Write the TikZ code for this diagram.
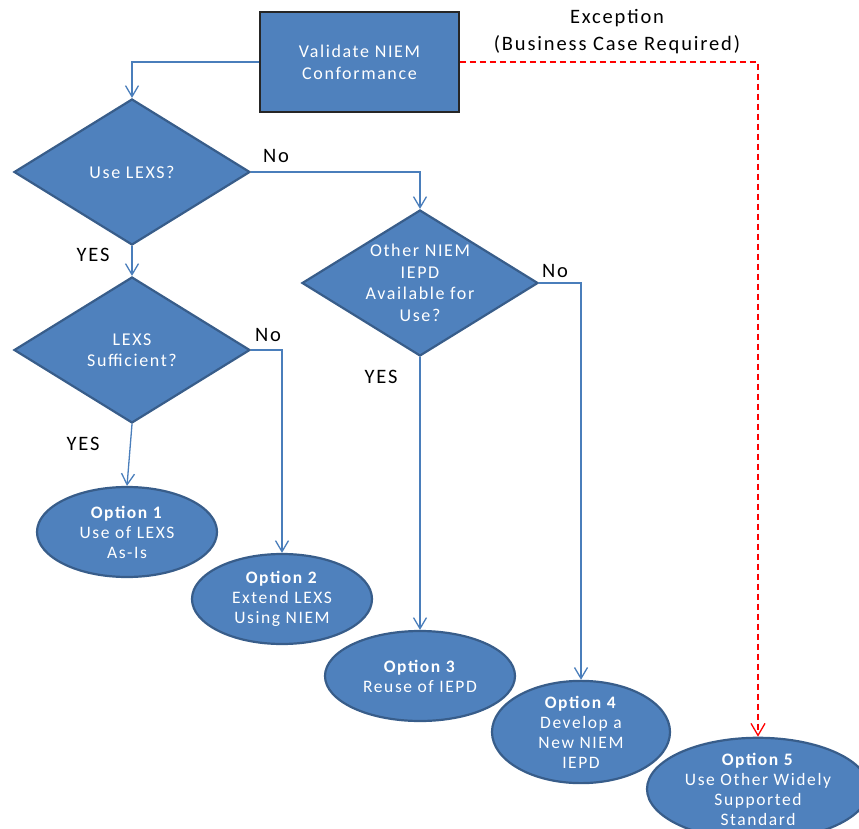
\documentclass[tikz,border=0pt]{standalone}
\usepackage{fontspec}
\setmainfont{Carlito}[LetterSpace=9]
\usetikzlibrary{shapes.geometric,arrows.meta}
\definecolor{boxfill}{HTML}{4F81BD}
\definecolor{boxedge}{HTML}{385D8A}
\definecolor{linkblue}{HTML}{4A7EBB}
\tikzset{
  decision/.style={diamond, aspect=1.6, fill=boxfill, draw=boxedge, line width=2.2pt, inner sep=0pt,
    minimum width=236pt, minimum height=146pt, text=white, align=center,
    font=\fontsize{18}{21.5}\selectfont},
  procbox/.style={rectangle, fill=boxfill, draw=black!85, line width=1.3pt,
    minimum width=199pt, minimum height=100pt, text=white, align=center,
    font=\fontsize{18}{22}\selectfont},
  option/.style={ellipse, fill=boxfill, draw=boxedge, line width=2.2pt, inner sep=0pt,
    minimum width=180pt, minimum height=90pt, text=white, align=center,
    font=\fontsize{17.5}{20}\selectfont},
  link/.style={draw=linkblue, line width=1.3pt, -{Straight Barb[length=11pt,width=13pt,line width=1.3pt]}},
  exception/.style={draw=red, line width=1.3pt, dash pattern=on 6pt off 4pt,
    -{Straight Barb[length=12pt,width=14pt,line width=1.3pt]}},
  lbl/.style={text=black, font=\fontsize{20.5}{27}\selectfont, align=center, inner sep=0pt}
}
\begin{document}
\begin{tikzpicture}[x=1pt,y=-1pt]
\useasboundingbox (0,0) rectangle (859,829);
\node[procbox] (val) at (359.5,62) {Validate NIEM\\Conformance};
\node[decision] (d1) at (132,172) {Use LEXS?};
\node[decision] (d3) at (132,350) {LEXS\\Sufficient?};
\node[decision] (d2) at (420,283) {Other NIEM\\IEPD\\Available for\\Use?};
\node[option] (o1) at (127,532) {\textbf{Option 1}\\Use of LEXS\\As-Is};
\node[option] (o2) at (282,599) {\textbf{Option 2}\\Extend LEXS\\Using NIEM};
\node[option, minimum width=190pt] (o3) at (420,676) {\textbf{Option 3}\\Reuse of IEPD};
\node[option, minimum width=178pt, minimum height=89pt] (o4) at (581,732) {\textbf{Option 4}\\Develop a\\New NIEM\\IEPD};
\node[option, minimum width=222pt, minimum height=92pt] (o5) at (758,789) {\textbf{Option 5}\\Use Other Widely\\Supported\\Standard};

\node[lbl] (no1) at (276,156) {No};
\node[lbl] (no2) at (268,335) {No};
\node[lbl] (no3) at (555,271) {No};
\node[lbl] (yes1) at (93,255) {YES};
\node[lbl] (yes2) at (83,444) {YES};
\node[lbl] (yes3) at (381,377) {YES};
\node[lbl] (exc) at (617,32) {Exception\\(Business Case Required)};

\draw[link] (val.west) -| (d1.north);
\draw[link] (d1.east) -| (d2.north);
\draw[link] (d1.south) -- (d3.north);
\draw[link] (d3.south) -- (o1.north);
\draw[link] (d3.east) -| (o2.north);
\draw[link] (d2.south) -- (o3.north);
\draw[link] (d2.east) -| (o4.north);
\draw[exception] (val.east) -| (o5.north);
\end{tikzpicture}
\end{document}
